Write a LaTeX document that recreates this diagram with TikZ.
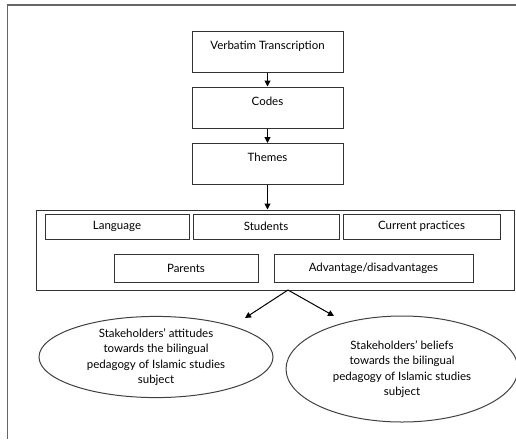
\documentclass[tikz,border=0pt]{standalone}
\usepackage{fontspec}
\setmainfont{Lato}
\usetikzlibrary{arrows.meta,positioning,shapes.geometric}

\begin{document}
\begin{tikzpicture}[x=1pt, y=-1pt,
        every node/.style={font=\fontsize{11.5}{15.5}\selectfont},
        stagebox/.style={draw=black!80, line width=1pt, minimum width=151pt, inner ysep=0pt, text height=18pt, text depth=23pt},
        themebox/.style={draw=black!80, line width=1pt, inner sep=0pt},
        outcome/.style={ellipse, draw=black!75, line width=1pt, align=center, inner sep=0pt},
        flow/.style={-{Triangle[length=6pt, width=6pt]}, line width=1pt}]
        \useasboundingbox (0, 0) rectangle (516, 439);
        \draw[black!60, line width=1.5pt] (516, 5) -- (7.5, 5) -- (7.5, 439);

        % analysis stages
        \node[stagebox] (verbatim) at (267.5, 51.5) {Verbatim Transcription};
        \node[stagebox] (codes) at (267.5, 107.5) {Codes};
        \node[stagebox] (themes) at (267.5, 164) {Themes};

        % themes found
        \node[themebox, minimum width=478pt, minimum height=80pt] (group) at (275, 250) {};
        \node[themebox, minimum width=144pt, minimum height=25pt] (language) at (117, 226.5) {Language};
        \node[themebox, minimum width=146pt, minimum height=25pt] (students) at (266, 226.5) {Students};
        \node[themebox, minimum width=157pt, minimum height=25pt] (practices) at (421.5, 226.5) {Current practices};
        \node[themebox, minimum width=144pt, minimum height=28pt] (parents) at (186, 268) {Parents};
        \node[themebox, minimum width=199pt, minimum height=28pt] (advantages) at (373.5, 268) {Advantage/disadvantages};

        % outcomes
        \node[outcome, minimum width=234pt, minimum height=81pt] (attitudes) at (156, 357)
                {Stakeholders' attitudes\\towards the bilingual\\pedagogy of Islamic studies\\subject};
        \node[outcome, minimum width=232pt, minimum height=106pt] (beliefs) at (402, 369)
                {Stakeholders' beliefs\\towards the bilingual\\pedagogy of Islamic studies\\subject};

        \draw[flow] (verbatim) -- (codes);
        \draw[flow] (codes) -- (themes);
        \draw[flow] (themes) -- (themes |- group.north);

        \coordinate (split) at (288, 290);
        \coordinate (attitudes tip) at (245, 318);
        \coordinate (beliefs tip) at (334, 316);
        \draw[flow] (split) -- (attitudes tip);
        \draw[flow] (split) -- (beliefs tip);
\end{tikzpicture}
\end{document}
